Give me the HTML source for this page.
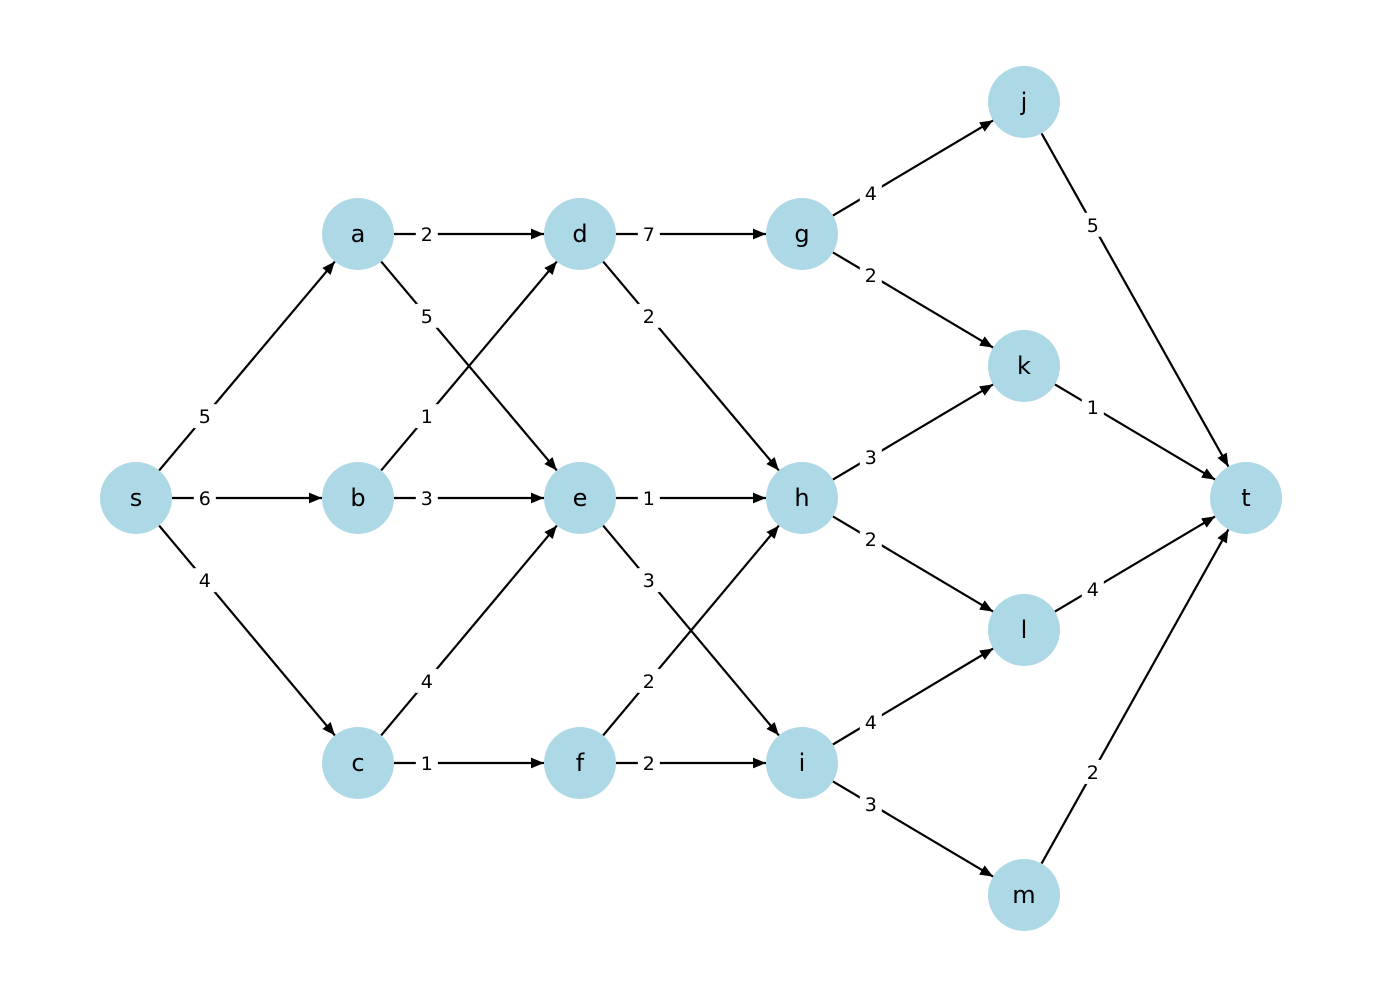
<!DOCTYPE html>
<html><head><meta charset="utf-8"><style>
html,body{margin:0;padding:0;background:#fff;}
svg{display:block;}
text{font-family:"DejaVu Sans","Liberation Sans",sans-serif;}
</style></head><body>
<svg width="1382" height="998" viewBox="0 0 1382 998" xmlns="http://www.w3.org/2000/svg">
<defs>
<marker id="a2" viewBox="0 0 12 10" refX="12" refY="5" markerWidth="13" markerHeight="11" markerUnits="userSpaceOnUse" orient="auto"><path d="M0,0 L12,5 L0,10 z" fill="#000"/></marker></defs>
<g id="g"></g>
</svg>
<script>
var N={s:[136,498],a:[358,234],b:[358,498],c:[358,763],d:[580,234],e:[580,498],f:[580,763],g:[802,234],h:[802,498],i:[802,763],j:[1024,102],k:[1024,366],l:[1024,630],m:[1024,895],t:[1246,498]};
var E=[["s","a",5],["s","b",6],["s","c",4],["a","d",2],["a","e",5],["b","d",1],["b","e",3],["c","e",4],["c","f",1],["d","g",7],["d","h",2],["e","h",1],["e","i",3],["f","h",2],["f","i",2],["g","j",4],["g","k",2],["h","k",3],["h","l",2],["i","l",4],["i","m",3],["j","t",5],["k","t",1],["l","t",4],["m","t",2]];
var s="",R=36;
E.forEach(function(e){var p=N[e[0]],q=N[e[1]],dx=q[0]-p[0],dy=q[1]-p[1],L=Math.hypot(dx,dy),ux=dx/L,uy=dy/L;
s+='<line x1="'+(p[0]+ux*R)+'" y1="'+(p[1]+uy*R)+'" x2="'+(q[0]-ux*R)+'" y2="'+(q[1]-uy*R)+'" stroke="#000" stroke-width="2.2" marker-end="url(#a2)"/>';});
E.forEach(function(e){var p=N[e[0]],q=N[e[1]],x=p[0]+(q[0]-p[0])*0.31,y=p[1]+(q[1]-p[1])*0.31;
s+='<rect x="'+(x-11)+'" y="'+(y-12)+'" width="22" height="24" fill="#fff"/><text x="'+x+'" y="'+(y+7)+'" font-size="19" text-anchor="middle">'+e[2]+'</text>';});
for(var k in N){var p=N[k];s+='<circle cx="'+p[0]+'" cy="'+p[1]+'" r="36" fill="#add8e6"/><text x="'+p[0]+'" y="'+(p[1]+8)+'" font-size="24" text-anchor="middle">'+k+'</text>';}
document.getElementById("g").innerHTML=s;
</script>
</body></html>
